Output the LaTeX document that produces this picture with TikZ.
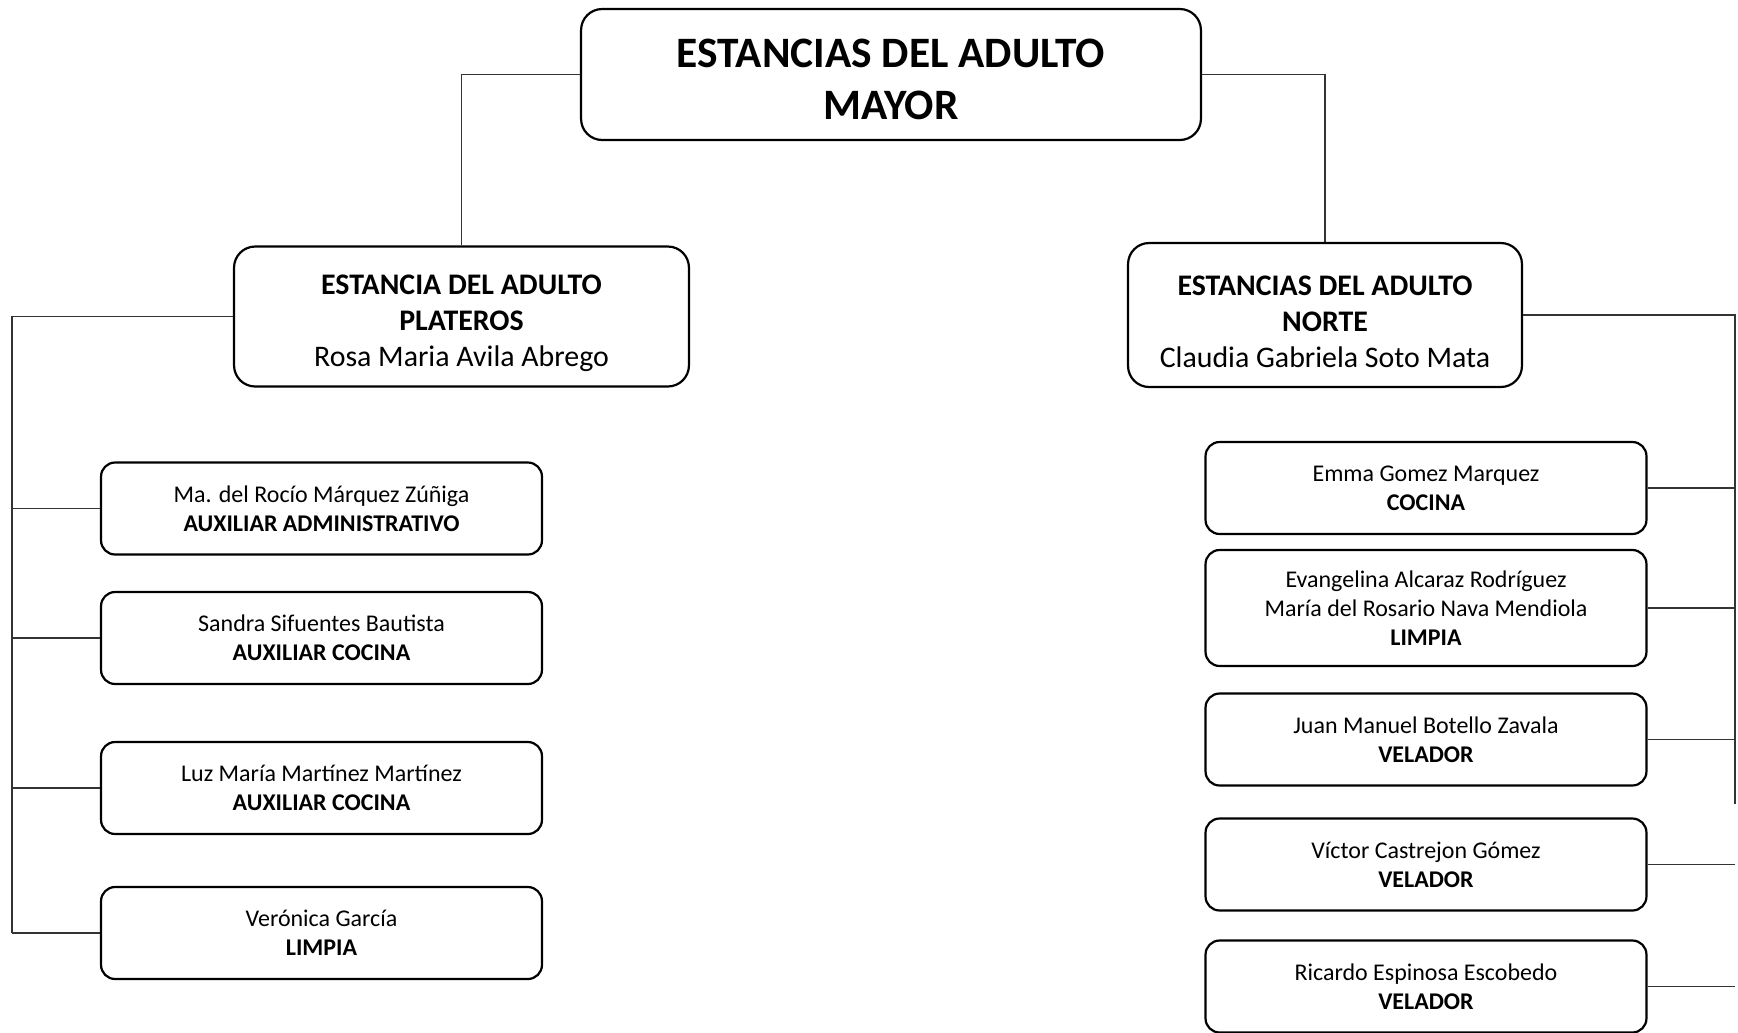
\documentclass[tikz,border=0pt]{standalone}
\usepackage{fontspec}
\setmainfont{Carlito}
\usetikzlibrary{positioning}

\newcommand{\bajo}[1]{\rule{0pt}{#1}}

\tikzset{
  caja/.style={draw, line width=1.25pt, rounded corners=12pt, align=center, inner sep=0pt},
  jefe/.style={caja, minimum width=12.4cm, minimum height=2.62cm, font=\fontsize{24.7}{29.5}\selectfont\bfseries},
  estancia/.style={caja, minimum height=2.8cm, font=\fontsize{17}{20.5}\selectfont},
  puesto/.style={caja, rounded corners=8pt, minimum width=8.82cm, minimum height=1.84cm, font=\fontsize{13.65}{16.5}\selectfont},
  linea/.style={black!80, line width=0.6pt}
}

\begin{document}
\begin{tikzpicture}[x=0.02cm, y=-0.02cm]
\useasboundingbox (0,0) rectangle (1738,1032);

\node[jefe] (eam) at (891,74.5) {\bajo{22pt}ESTANCIAS DEL ADULTO\\MAYOR};

\node[estancia, minimum width=9.1cm] (plateros) at (461.5,316.5)
  {\bajo{18.5pt}\textbf{ESTANCIA DEL ADULTO}\\\textbf{PLATEROS}\\Rosa Maria Avila Abrego};
\node[estancia, minimum width=7.88cm, minimum height=2.88cm] (norte) at (1325,315)
  {\bajo{18.5pt}\textbf{ESTANCIAS DEL ADULTO}\\\textbf{NORTE}\\Claudia Gabriela Soto Mata};

% personal plateros
\foreach \nombre/\cargo/\y [count=\i] in {
    {Ma. del Rocío Márquez Zúñiga}/{AUXILIAR ADMINISTRATIVO}/508.5,
    {Sandra Sifuentes Bautista}/{AUXILIAR COCINA}/638,
    {Luz María Martínez Martínez}/{AUXILIAR COCINA}/788,
    {Verónica García}/{LIMPIA}/933}
  \node[puesto] (p\i) at (321.5,\y) {\nombre\\\textbf{\cargo}};

% personal norte
\node[puesto] (r1) at (1426,488) {Emma Gomez Marquez\\\textbf{COCINA}};
\node[puesto, minimum height=2.32cm] (r2) at (1426,608)
  {Evangelina Alcaraz Rodríguez\\María del Rosario Nava Mendiola\\\textbf{LIMPIA}};
\foreach \nombre/\y [count=\i from 3] in {
    {Juan Manuel Botello Zavala}/739.5,
    {Víctor Castrejon Gómez}/864.5,
    {Ricardo Espinosa Escobedo}/986.5}
  \node[puesto] (r\i) at (1426,\y) {\nombre\\\textbf{VELADOR}};

\coordinate (izq) at (12,0);
\coordinate (der) at (1735,0);
\coordinate (finder) at (1735,804);

\draw[linea] (eam.west) -| (plateros.north);
\draw[linea] (eam.east) -| (norte.north);

\draw[linea] (plateros.west) -| (p4.west -| izq);
\foreach \i in {1,...,4}
  \draw[linea] (p\i.west) -- (p\i.west -| izq);

\draw[linea] (norte.east) -| (finder);
\foreach \i in {1,...,5}
  \draw[linea] (r\i.east) -- (r\i.east -| der);

\end{tikzpicture}
\end{document}
